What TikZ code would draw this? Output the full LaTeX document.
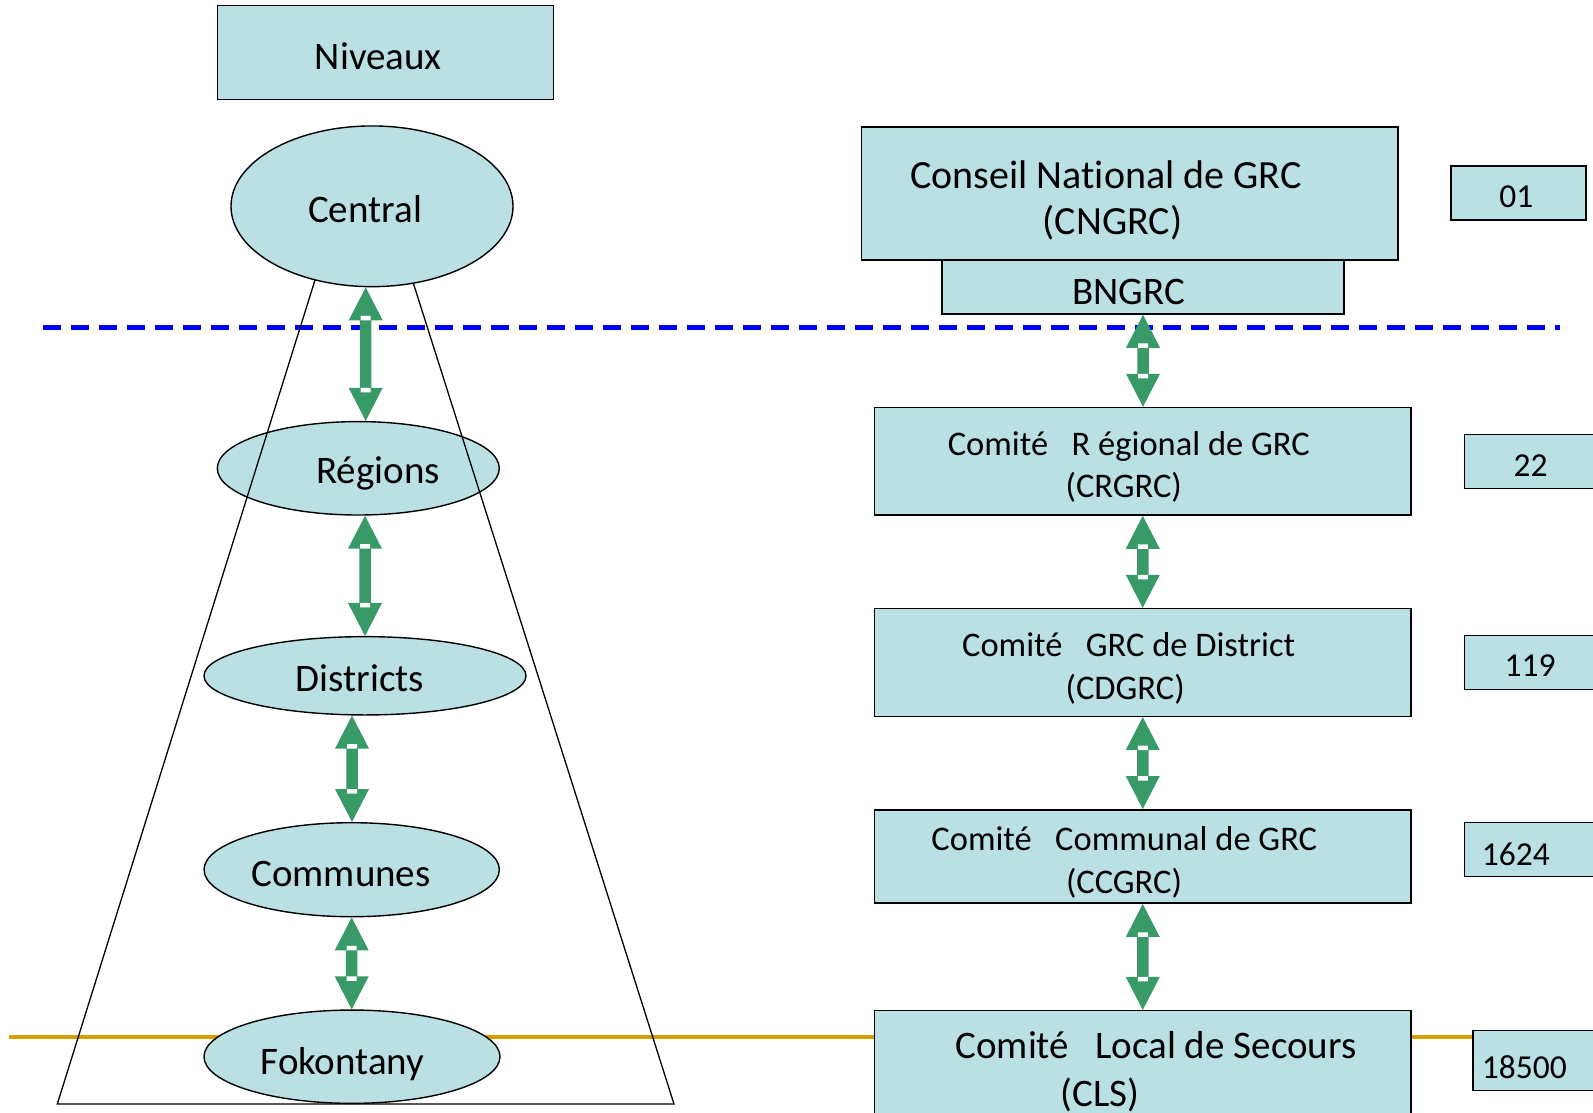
\documentclass[tikz,border=0pt]{standalone}
\usepackage{fontspec}
\setmainfont{Carlito}[Ligatures=NoCommon]
\usetikzlibrary{shapes.geometric,calc}
\definecolor{boxfill}{RGB}{186,224,227}
\definecolor{arrowgreen}{RGB}{56,155,103}
\definecolor{sepgold}{RGB}{210,160,0}
\definecolor{sepblue}{RGB}{0,0,255}
\newcommand\grcarrow[2]{%
  \fill[arrowgreen] let \p1=(#1), \p2=(#2) in
    (\x1,\y1) -- (\x1+17pt,\y1-33pt) -- (\x1+5.75pt,\y1-33pt) -- (\x1+5.75pt,\y2+33pt)
    -- (\x1+17pt,\y2+33pt) -- (\x1,\y2) -- (\x1-17pt,\y2+33pt) -- (\x1-5.75pt,\y2+33pt)
    -- (\x1-5.75pt,\y1-33pt) -- (\x1-17pt,\y1-33pt) -- cycle;
  \fill[white] let \p1=(#1), \p2=(#2) in
    (\x1-5pt,\y1-33pt) rectangle (\x1+5pt,\y1-28.5pt)
    (\x1-5pt,\y2+33pt) rectangle (\x1+5pt,\y2+28.5pt);
}
\begin{document}
\begin{tikzpicture}[x=1pt,y=-1pt,
  box/.style={rectangle,draw=black,line width=1.5pt,fill=boxfill,inner sep=0pt},
  oval/.style={ellipse,draw=black,line width=1.4pt,fill=boxfill,inner sep=0pt},
  big/.style={font=\fontsize{39}{47}\selectfont,inner sep=0pt,anchor=base},
  mid/.style={font=\fontsize{34.5}{41}\selectfont,inner sep=0pt,anchor=base},
  num/.style={font=\fontsize{33.5}{40}\selectfont,inner sep=0pt,anchor=base}]
\clip (0,0) rectangle (1593,1113);
\fill[white] (0,0) rectangle (1593,1113);

% separators
\coordinate (goldL) at (9,1037);
\coordinate (goldR) at (1473,1037);
\draw[sepgold,line width=3.5pt] (goldL) -- (goldR);
\coordinate (blueL) at (42.7,327.5);
\coordinate (blueR) at (1559.6,327.5);
\draw[sepblue,line width=5pt,dash pattern=on 18pt off 10pt] (blueL) -- (blueR);

% boxes
\node[box,minimum width=336pt,minimum height=93.6pt] (niv) at (385.3,52.5) {};
\node[box,minimum width=536.5pt,minimum height=133pt] (cngrc) at (1129.75,193.5) {};
\node[box,minimum width=402.4pt,minimum height=54pt] (bngrc) at (1143,287) {};
\node[box,minimum width=135pt,minimum height=54pt] (n01) at (1518.5,193) {};
\node[box,minimum width=536.5pt,minimum height=107.5pt] (crgrc) at (1142.75,461.25) {};
\node[box,minimum width=135.7pt,minimum height=54pt] (n22) at (1532.15,461.3) {};
\node[box,minimum width=536.5pt,minimum height=107.7pt] (cdgrc) at (1142.75,662.45) {};
\node[box,minimum width=135.7pt,minimum height=54pt] (n119) at (1532.15,662.3) {};
\node[box,minimum width=536.5pt,minimum height=93.4pt] (ccgrc) at (1142.75,856.5) {};
\node[box,minimum width=135.7pt,minimum height=54pt] (n1624) at (1532.15,849.7) {};
\node[box,minimum width=536.5pt,minimum height=119.3pt] (cls) at (1142.75,1070.35) {};
\node[box,minimum width=137pt,minimum height=60pt] (n18500) at (1541.5,1060.7) {};

% ellipses (below central)
\node[oval,minimum width=282pt,minimum height=93.4pt] (reg) at (358.3,468.3) {};
\node[oval,minimum width=322pt,minimum height=78.3pt] (dis) at (365,675.8) {};
\node[oval,minimum width=295.3pt,minimum height=94pt] (com) at (351.7,869.7) {};
\node[oval,minimum width=296pt,minimum height=93.3pt] (fok) at (352,1056.7) {};

% pyramid
\draw[line width=1.3pt] (324.4,250) -- (57.3,1104) -- (674,1104) -- (402.8,250);

\node[oval,minimum width=282pt,minimum height=160.7pt] (cen) at (372,206.3) {};

% texts
\node[big] (tniv) at (378.3,69.3) {Niveaux};
\node[big] (tcen) at (365,222.7) {Central};
\node[big] (treg) at (378,483.3) {Régions};
\node[big] (tdis) at (360,691.7) {Districts};
\node[big] (tcom) at (341,886) {Communes};
\node[big] (tfok) at (342.5,1074) {Fokontany};

\node[big,font=\fontsize{40}{48}\selectfont] (tcn1) at (1106,189) {Conseil National de GRC};
\node[big,font=\fontsize{40}{48}\selectfont] (tcn2) at (1112.5,234.7) {(CNGRC)};
\node[big] (tbn) at (1128.8,304.8) {BNGRC};
\node[mid] (tcr1) at (1128.8,455.2) {Comité\ \ \ R égional de GRC};
\node[mid] (tcr2) at (1123.7,497.8) {(CRGRC)};
\node[mid] (tcd1) at (1128.7,656.3) {Comité\ \ \ GRC de District};
\node[mid] (tcd2) at (1125.2,699) {(CDGRC)};
\node[mid] (tcc1) at (1124.3,850.4) {Comité\ \ \ Communal de GRC};
\node[mid] (tcc2) at (1124,893) {(CCGRC)};
\node[big] (tcl1) at (1156,1058.7) {Comité\ \ \ Local de Secours};
\node[big] (tcl2) at (1100,1106.5) {(CLS)};

\node[num] (t01) at (1516.3,207.3) {01};
\node[num] (t22) at (1530.5,476) {22};
\node[num] (t119) at (1530,676.7) {119};
\node[num,anchor=base west] (t1624) at (1481.7,865) {1624};
\node[num,anchor=base west] (t18500) at (1481.7,1078) {18500};

% arrows
\grcarrow{$(cen.south)+(-6.3,0)$}{$(reg.north)+(7.4,0)$}
\grcarrow{$(reg.south)+(6.7,0)$}{dis.north}
\grcarrow{$(dis.south)+(-13,0)$}{com.north}
\grcarrow{com.south}{fok.north}
\grcarrow{bngrc.south}{crgrc.north}
\grcarrow{crgrc.south}{cdgrc.north}
\grcarrow{cdgrc.south}{ccgrc.north}
\grcarrow{ccgrc.south}{cls.north}
\end{tikzpicture}
\end{document}
